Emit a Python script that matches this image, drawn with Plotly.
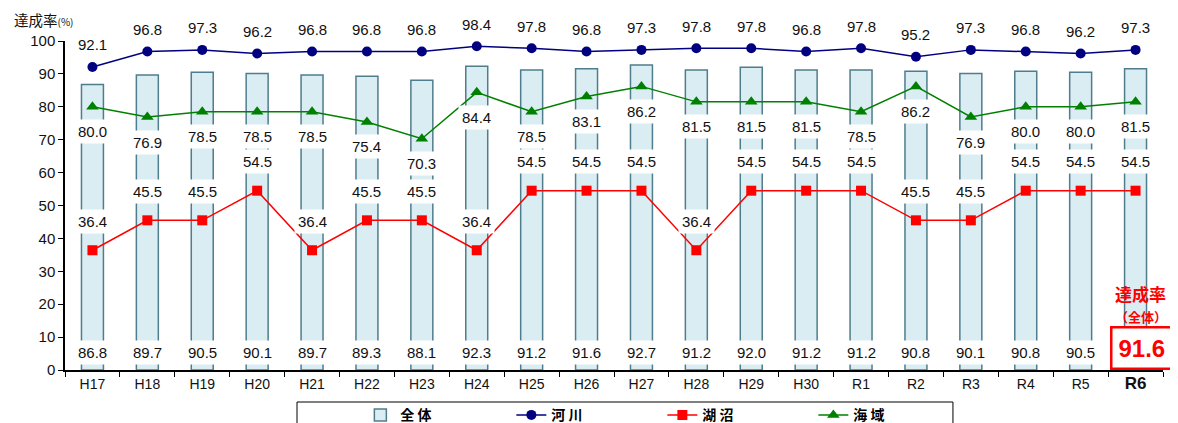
import plotly.graph_objects as go

categories = ["H17","H18","H19","H20","H21","H22","H23","H24","H25","H26",
              "H27","H28","H29","H30","R1","R2","R3","R4","R5","R6"]
total = [86.8,89.7,90.5,90.1,89.7,89.3,88.1,92.3,91.2,91.6,92.7,91.2,92.0,91.2,91.2,90.8,90.1,90.8,90.5,91.6]
river = [92.1,96.8,97.3,96.2,96.8,96.8,96.8,98.4,97.8,96.8,97.3,97.8,97.8,96.8,97.8,95.2,97.3,96.8,96.2,97.3]
lake = [36.4,45.5,45.5,54.5,36.4,45.5,45.5,36.4,54.5,54.5,54.5,36.4,54.5,54.5,54.5,45.5,45.5,54.5,54.5,54.5]
sea = [80.0,76.9,78.5,78.5,78.5,75.4,70.3,84.4,78.5,83.1,86.2,81.5,81.5,81.5,78.5,86.2,76.9,80.0,80.0,81.5]

FONT = "Liberation Sans, Arial, Noto Sans CJK JP"
JP = "Noto Sans CJK JP"
fig = go.Figure()
fig.add_trace(go.Bar(x=categories, y=total, name="全 体", width=0.4,
                     marker=dict(color="#daedf3", line=dict(color="#4f7d8c", width=1.5))))
fig.add_trace(go.Scatter(x=categories, y=river, name="河 川", mode="lines+markers",
                         line=dict(color="#000080", width=1.5),
                         marker=dict(symbol="circle", size=10, color="#000080")))
fig.add_trace(go.Scatter(x=categories, y=lake, name="湖 沼", mode="lines+markers",
                         line=dict(color="#ff0000", width=1.5),
                         marker=dict(symbol="square", size=10, color="#ff0000")))
fig.add_trace(go.Scatter(x=categories, y=sea, name="海 域", mode="lines+markers",
                         line=dict(color="#008000", width=1.5),
                         marker=dict(symbol="triangle-up", size=11, color="#008000")))

ann = []
lf = dict(family=FONT, size=15, color="#111111")
for i, c in enumerate(categories):
    ann.append(dict(x=c, y=river[i], text=f"{river[i]:.1f}", showarrow=False, yshift=22,
                    font=lf, bgcolor="white"))
    ann.append(dict(x=c, y=lake[i], text=f"{lake[i]:.1f}", showarrow=False, yshift=29,
                    font=lf, bgcolor="white", borderpad=3))
    ann.append(dict(x=c, y=sea[i], text=f"{sea[i]:.1f}", showarrow=False, yshift=-25,
                    font=lf, bgcolor="white", borderpad=3))
    if i < len(categories) - 1:
        ann.append(dict(x=c, y=5.4, text=f"{total[i]:.1f}", showarrow=False,
                        font=lf, bgcolor="white", borderpad=3))
ann.append(dict(x=categories[-1], y=6.7, text=f"<b>{total[-1]:.1f}</b>", showarrow=False,
                xshift=6, font=dict(family=FONT, size=24, color="#ff0000"), bgcolor="white",
                bordercolor="#ff0000", borderwidth=2.5, borderpad=6))
ann.append(dict(x=categories[-1], y=23.4, text="<b>達成率</b>", showarrow=False, xshift=5,
                font=dict(family=JP, size=17, color="#ff0000")))
ann.append(dict(x=categories[-1], y=16.4, text="<b>（全体）</b>", showarrow=False, xshift=5,
                font=dict(family=JP, size=13, color="#ff0000")))
ann.append(dict(xref="paper", yref="paper", x=-0.048, y=1.064, xanchor="left", yanchor="middle",
                text="達成率<span style='font-size:10px'>(%)</span>", showarrow=False,
                font=dict(family=JP, size=14.5, color="#111111")))

ticktext = categories[:-1] + ["<b><span style='font-size:17px'>R6</span></b>"]

# legend frame (paper coords)
shapes = [dict(type="rect", xref="paper", yref="paper", x0=0.2113, x1=0.8087, y0=-0.3, y1=-0.0973,
               line=dict(color="black", width=1), fillcolor="white", layer="below")]

# page body has an 8px margin: shift the figure by that amount
fig.update_layout(
    width=1170, height=415,
    margin=dict(l=57, r=15, t=33, b=53, autoexpand=False),
    paper_bgcolor="white", plot_bgcolor="white",
    font=dict(family=FONT, size=14, color="#111111"),
    annotations=ann, shapes=shapes,
    bargap=0.6,
    xaxis=dict(type="category", tickvals=categories, ticktext=ticktext, range=[-0.5, 19.5],
               showline=True, linecolor="black", linewidth=1.5,
               ticks="outside", tickson="boundaries", ticklen=5, tickcolor="black",
               tickfont=dict(size=14), showgrid=False),
    yaxis=dict(range=[0, 100], dtick=10, showline=True, linecolor="black", linewidth=1.5,
               ticks="outside", ticklen=5, tickcolor="black", showgrid=False, zeroline=False,
               tickfont=dict(size=15)),
    legend=dict(orientation="h", x=0.269, xanchor="left", y=-0.089, yanchor="top",
                borderwidth=0, bgcolor="rgba(0,0,0,0)",
                font=dict(family=JP, size=14, color="black", weight="bold"),
                entrywidth=106, itemwidth=30),
)
fig.write_html("out.html")
